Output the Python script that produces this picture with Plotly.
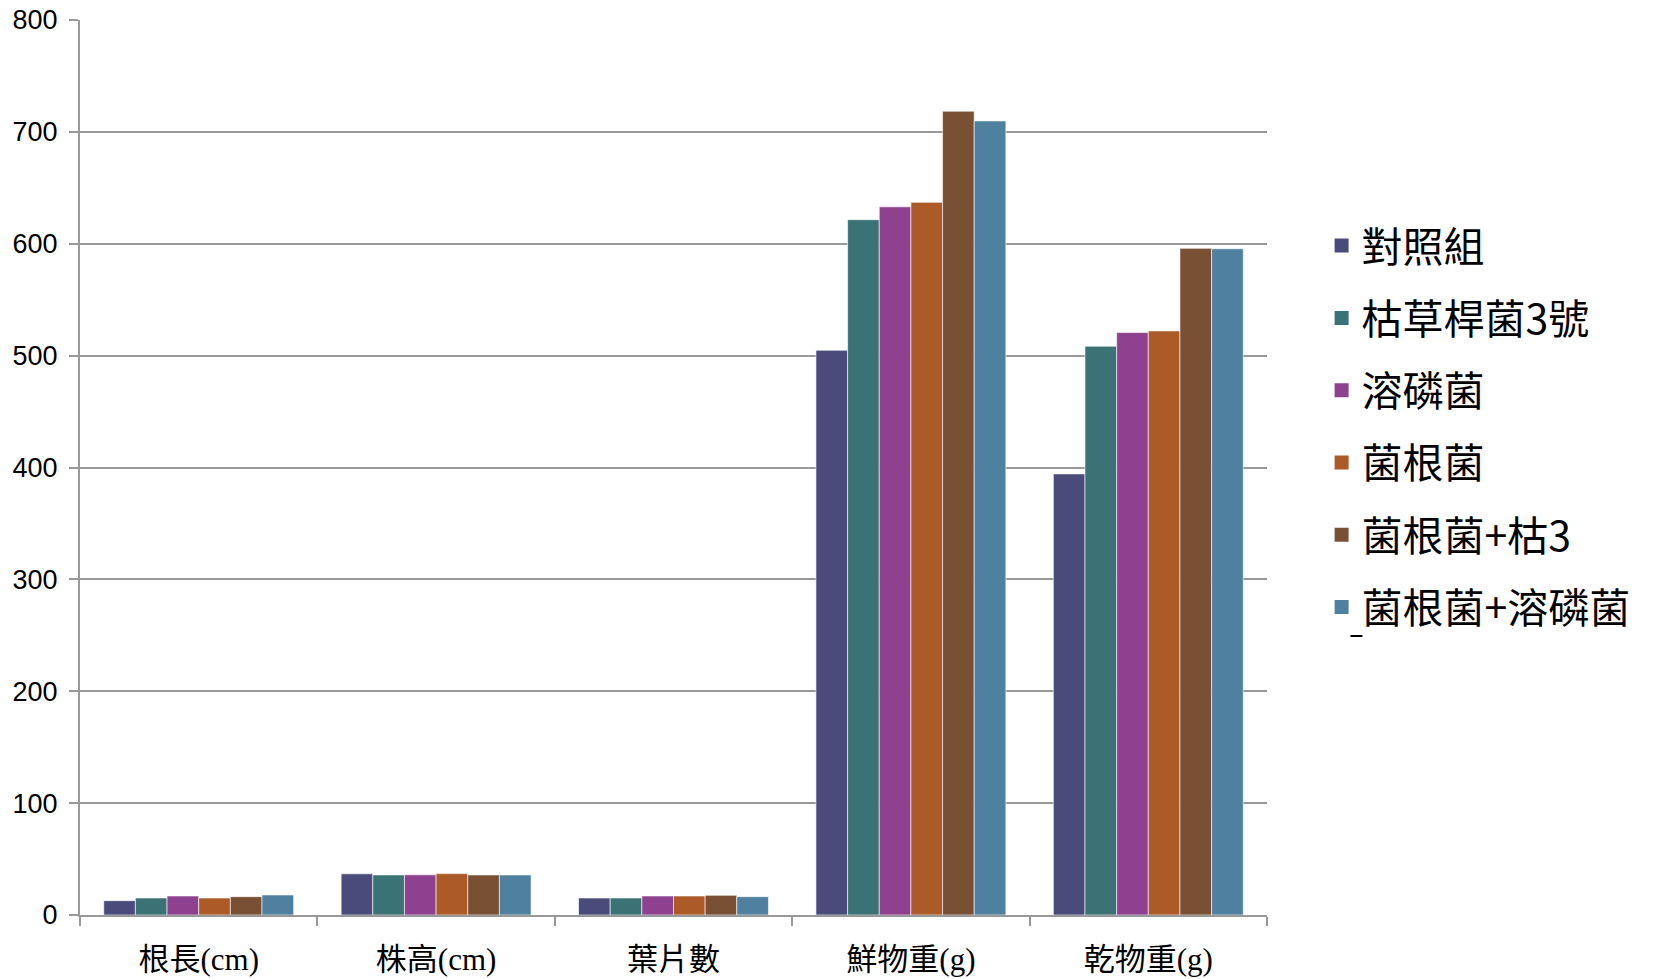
import plotly.graph_objects as go

categories = ["根長(cm)", "株高(cm)", "葉片數", "鮮物重(g)", "乾物重(g)"]
series_names = ["對照組", "枯草桿菌3號", "溶磷菌", "菌根菌", "菌根菌+枯3", "菌根菌+溶磷菌"]

control = [12.8, 36.8, 15.2, 504.8, 394.3]
bacillus3 = [15.2, 35.8, 15.2, 621.5, 508.4]
psb = [17.0, 35.9, 17.0, 633.0, 520.6]
mycorrhiza = [15.2, 37.0, 17.0, 637.0, 522.1]
myco_bac3 = [16.4, 35.8, 17.6, 718.5, 595.9]
myco_psb = [17.9, 35.8, 16.4, 709.8, 595.5]

series_values = [control, bacillus3, psb, mycorrhiza, myco_bac3, myco_psb]
colors = ["#4a4b7b", "#3a7275", "#8d418e", "#ab5a28", "#7a5035", "#4f80a0"]

y_ticks = [0, 100, 200, 300, 400, 500, 600, 700, 800]

fig = go.Figure()
for i, (name, vals, col) in enumerate(zip(series_names, series_values, colors)):
    fig.add_trace(go.Bar(
        x=categories, y=vals, name=name,
        marker=dict(color=col, line=dict(color="rgba(255,255,255,0.6)", width=1)),
        legendgroup=f"g{i}", showlegend=False,
    ))
    # legend entry with a larger square swatch
    fig.add_trace(go.Scatter(
        x=[None], y=[None], name=name, mode="markers",
        marker=dict(symbol="square", size=14, color=col),
        legendgroup=f"g{i}", showlegend=True,
    ))

fig.update_layout(
    width=1659, height=979,
    plot_bgcolor="white", paper_bgcolor="white",
    barmode="group", bargap=0.2, bargroupgap=0,
    margin=dict(l=80, r=392, t=20, b=64, autoexpand=False),
    showlegend=True,
    legend=dict(
        x=1.046, xanchor="left", xref="paper",
        y=0.785, yanchor="top",
        font=dict(family="Noto Sans CJK TC, Liberation Sans, sans-serif", size=41, color="black"),
        tracegroupgap=16,
        itemsizing="trace",
        bgcolor="rgba(0,0,0,0)",
    ),
    xaxis=dict(
        showline=True, linecolor="#999999", linewidth=2,
        ticks="outside", tickson="boundaries", ticklen=9, tickwidth=2, tickcolor="#999999",
        tickfont=dict(family="Liberation Serif, Noto Sans CJK TC, serif", size=31, color="black"),
        ticklabelstandoff=16,
        showgrid=False,
    ),
    yaxis=dict(
        range=[0, 800], tickvals=y_ticks,
        showline=True, linecolor="#999999", linewidth=2,
        ticks="outside", ticklen=9, tickwidth=2, tickcolor="#999999",
        showgrid=True, gridcolor="#999999", gridwidth=1.5,
        zeroline=False,
        tickfont=dict(family="Liberation Sans, Arial, sans-serif", size=27, color="black"),
        ticklabelstandoff=6,
    ),
    shapes=[dict(type="line", xref="paper", yref="paper",
                 x0=(1351 - 80) / 1187.5, x1=(1363 - 80) / 1187.5,
                 y0=(915 - 636) / 895, y1=(915 - 636) / 895,
                 line=dict(color="black", width=2))],
)

fig.write_html("out.html")
